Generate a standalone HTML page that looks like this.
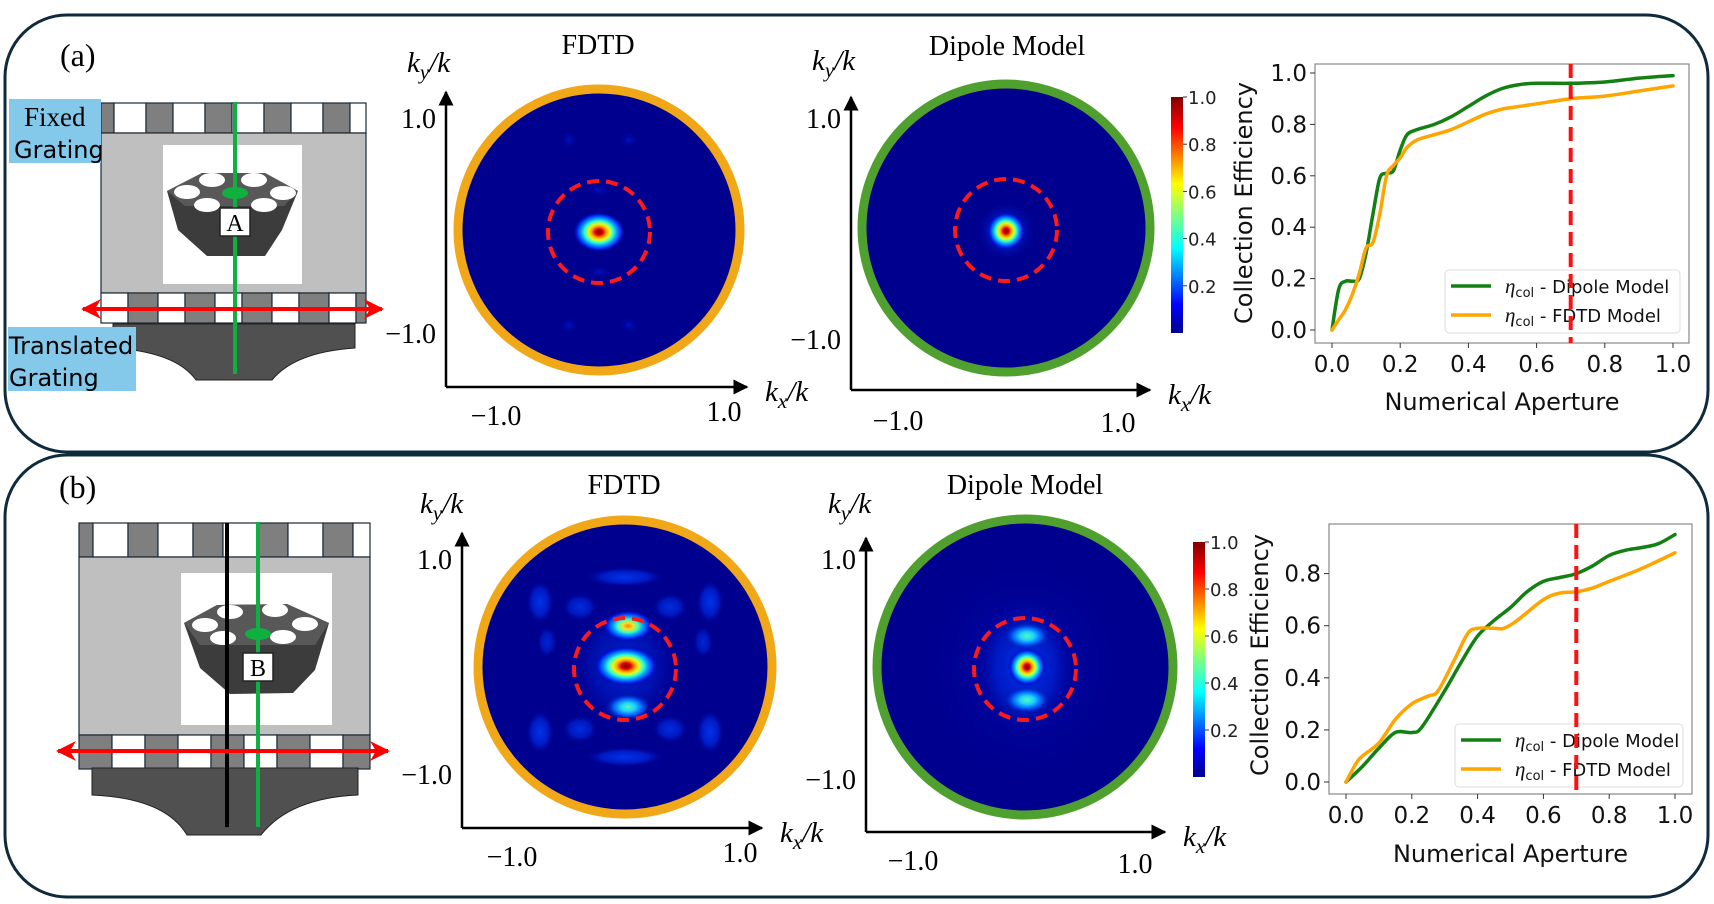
<!DOCTYPE html>
<html><head><meta charset="utf-8">
<style>
html,body{margin:0;padding:0;background:#fff;}
svg{display:block;}
.serif{font-family:"Liberation Serif",serif;}
.sans{font-family:"DejaVu Sans","Liberation Sans",sans-serif;}
</style></head>
<body>
<svg id="fig" width="1714" height="904" viewBox="0 0 1714 904" xmlns="http://www.w3.org/2000/svg">
<defs>
<radialGradient id="spot">
<stop offset="0" stop-color="#7f0000"/>
<stop offset="0.15" stop-color="#e00000"/>
<stop offset="0.3" stop-color="#ffb000"/>
<stop offset="0.42" stop-color="#e0ff20"/>
<stop offset="0.55" stop-color="#30ffd0"/>
<stop offset="0.7" stop-color="#0090ff"/>
<stop offset="0.85" stop-color="#0020f0"/>
<stop offset="1" stop-color="#00008f" stop-opacity="0"/>
</radialGradient>
<radialGradient id="spot2">
<stop offset="0" stop-color="#ff8000"/>
<stop offset="0.2" stop-color="#ffe020"/>
<stop offset="0.4" stop-color="#40ffc0"/>
<stop offset="0.6" stop-color="#0090ff"/>
<stop offset="0.8" stop-color="#0020f0"/>
<stop offset="1" stop-color="#00008f" stop-opacity="0"/>
</radialGradient>
<radialGradient id="spot3">
<stop offset="0" stop-color="#50ffb0"/>
<stop offset="0.3" stop-color="#20d0ff"/>
<stop offset="0.6" stop-color="#0060ff"/>
<stop offset="1" stop-color="#00008f" stop-opacity="0"/>
</radialGradient>
<radialGradient id="faint">
<stop offset="0" stop-color="#0040ff"/>
<stop offset="0.6" stop-color="#0020d0"/>
<stop offset="1" stop-color="#000090" stop-opacity="0"/>
</radialGradient>
<radialGradient id="vfaint">
<stop offset="0" stop-color="#0010c0"/>
<stop offset="1" stop-color="#00008f" stop-opacity="0"/>
</radialGradient>
<radialGradient id="halo">
<stop offset="0" stop-color="#0030e0"/>
<stop offset="0.5" stop-color="#0018c0"/>
<stop offset="1" stop-color="#000090" stop-opacity="0"/>
</radialGradient>
<linearGradient id="jet" x1="0" y1="1" x2="0" y2="0">
<stop offset="0" stop-color="#00008f"/>
<stop offset="0.12" stop-color="#0000ff"/>
<stop offset="0.36" stop-color="#00ffff"/>
<stop offset="0.5" stop-color="#80ff80"/>
<stop offset="0.63" stop-color="#ffff00"/>
<stop offset="0.87" stop-color="#ff0000"/>
<stop offset="1" stop-color="#800000"/>
</linearGradient>
<marker id="arr" viewBox="0 0 10 10" refX="9" refY="5" markerWidth="6" markerHeight="6" orient="auto"><path d="M0,0 L10,5 L0,10 Z" fill="#000"/></marker>
<marker id="rarr" viewBox="0 0 10 10" refX="9" refY="5" markerWidth="5" markerHeight="5" orient="auto-start-reverse"><path d="M0,0 L10,5 L0,10 L3,5 Z" fill="#f00"/></marker>
</defs>

<rect x="5" y="15" width="1703" height="437" rx="62" fill="none" stroke="#0f2b3b" stroke-width="3"/>
<rect x="5" y="455" width="1703" height="442" rx="62" fill="none" stroke="#0f2b3b" stroke-width="3"/>
<text x="60" y="66" class="serif" font-size="32">(a)</text>
<text x="59" y="498" class="serif" font-size="32">(b)</text>

<g id="schemA"></g>
<g id="schemB"></g>
<g id="maps"></g>
<g id="chartA"></g>
<g id="chartB"></g>
</svg>

<script>
// ---------- chart data ----------
const naA = [0,0.02,0.04,0.06,0.08,0.1,0.12,0.14,0.16,0.18,0.2,0.22,0.25,0.3,0.35,0.4,0.45,0.5,0.55,0.6,0.7,0.8,0.9,1.0];
const dipoleA = [0,0.16,0.19,0.19,0.2,0.3,0.45,0.59,0.61,0.62,0.7,0.76,0.78,0.8,0.83,0.87,0.91,0.94,0.955,0.96,0.96,0.965,0.98,0.99];
const fdtdA = [0,0.04,0.08,0.14,0.22,0.32,0.34,0.45,0.6,0.64,0.67,0.71,0.74,0.76,0.78,0.81,0.84,0.86,0.87,0.88,0.9,0.91,0.93,0.95];
const naB1 = [0,0.05,0.1,0.15,0.2,0.23,0.3,0.35,0.4,0.45,0.5,0.55,0.6,0.65,0.7,0.75,0.8,0.85,0.9,0.95,1.0];
const dipoleB = [0,0.06,0.13,0.19,0.19,0.21,0.35,0.46,0.56,0.62,0.67,0.73,0.77,0.785,0.8,0.83,0.87,0.89,0.9,0.915,0.95];
const naB2 = [0,0.03,0.05,0.1,0.15,0.2,0.25,0.28,0.33,0.37,0.4,0.45,0.48,0.52,0.6,0.65,0.7,0.75,0.8,0.9,1.0];
const fdtdB = [0,0.07,0.1,0.15,0.24,0.3,0.33,0.35,0.47,0.57,0.59,0.59,0.59,0.62,0.7,0.725,0.73,0.745,0.77,0.82,0.88];
const xTicks = [0,0.2,0.4,0.6,0.8,1.0];
const yTicksA = [0,0.2,0.4,0.6,0.8,1.0];
const yTicksB = [0,0.2,0.4,0.6,0.8];
const cbTicks = [0.2,0.4,0.6,0.8,1.0];
const naCut = 0.7;

const NS = "http://www.w3.org/2000/svg";
function mk(tag, attrs, parent){
  const e = document.createElementNS(NS, tag);
  for (const k in attrs) e.setAttribute(k, attrs[k]);
  if (parent) parent.appendChild(e);
  return e;
}
function smoothPath(pts){
  let d = "M" + pts[0][0].toFixed(1) + "," + pts[0][1].toFixed(1);
  for (let i=0;i<pts.length-1;i++){
    const p0 = pts[Math.max(0,i-1)], p1 = pts[i], p2 = pts[i+1], p3 = pts[Math.min(pts.length-1,i+2)];
    const c1x = p1[0]+(p2[0]-p0[0])/6, c1y = p1[1]+(p2[1]-p0[1])/6;
    const c2x = p2[0]-(p3[0]-p1[0])/6, c2y = p2[1]-(p3[1]-p1[1])/6;
    d += " C"+c1x.toFixed(1)+","+c1y.toFixed(1)+" "+c2x.toFixed(1)+","+c2y.toFixed(1)+" "+p2[0].toFixed(1)+","+p2[1].toFixed(1);
  }
  return d;
}

function drawChart(g, cfg){
  const sx = v => cfg.x0 + v*(cfg.x1-cfg.x0);
  const sy = v => cfg.y0 - v*(cfg.y0-cfg.y1);
  const frame = mk("rect",{x:cfg.fl,y:cfg.ft,width:cfg.fr-cfg.fl,height:cfg.fb-cfg.ft,fill:"#fff",stroke:"#888","stroke-width":1.2},g);
  
  
  cfg.xt.forEach(v=>{
    mk("line",{x1:sx(v),x2:sx(v),y1:cfg.fb,y2:cfg.fb+5,stroke:"#333"},g);
    const t = mk("text",{x:sx(v),y:cfg.fb+29,"text-anchor":"middle","font-size":23,class:"sans",fill:"#111"},g);
    t.textContent = v.toFixed(1);
    
    
  });
  cfg.yt.forEach(v=>{
    mk("line",{x1:cfg.fl-5,x2:cfg.fl,y1:sy(v),y2:sy(v),stroke:"#333"},g);
    const t = mk("text",{x:cfg.fl-8,y:sy(v)+8,"text-anchor":"end","font-size":23,class:"sans",fill:"#111"},g);
    t.textContent = v.toFixed(1);
    
    
  });
  const xl = mk("text",{x:(cfg.fl+cfg.fr)/2,y:cfg.xly,"text-anchor":"middle","font-size":24,class:"sans",fill:"#111"},g);
  xl.textContent = "Numerical Aperture";
  
  
  const yl = mk("text",{transform:"translate("+cfg.ylx+","+cfg.yly+") rotate(-90)","text-anchor":"middle","font-size":24,class:"sans",fill:"#111"},g);
  yl.textContent = "Collection Efficiency";
  
  
  const dp = mk("path",{d:smoothPath(cfg.dx.map((x,i)=>[sx(x),sy(cfg.dy[i])])),fill:"none",stroke:"#128012","stroke-width":3.5,"stroke-linecap":"round"},g);
  
  
  const fp = mk("path",{d:smoothPath(cfg.fx.map((x,i)=>[sx(x),sy(cfg.fy[i])])),fill:"none",stroke:"#ffa500","stroke-width":3.5,"stroke-linecap":"round"},g);
  
  
  const lg = mk("g",{},g);
  
  
  mk("rect",{x:cfg.lx,y:cfg.ly,width:cfg.lw,height:63,rx:4,fill:"#fff","fill-opacity":0.85,stroke:"#ddd"},lg);
  const names = ["Dipole Model","FDTD Model"], cols=["#128012","#ffa500"];
  names.forEach((n,i)=>{
    const yy = cfg.ly+16+i*29;
    const ln = mk("line",{x1:cfg.lx+6,x2:cfg.lx+46,y1:yy,y2:yy,stroke:cols[i],"stroke-width":3.5},lg);
    
    
    const t = mk("text",{x:cfg.lx+60,y:yy+7,"font-size":18,class:"sans",fill:"#111"},lg);
    t.innerHTML = '<tspan font-style="italic" font-family="Liberation Serif,serif" font-size="21">η</tspan><tspan font-size="13" dy="4">col</tspan><tspan dy="-4"> - '+n+'</tspan>';
    
    
  });
  const cut = mk("line",{x1:sx(naCut),x2:sx(naCut),y1:cfg.ft,y2:cfg.fb,stroke:"#ff1010","stroke-width":4,"stroke-dasharray":"14,7"},g);
  
  
}

drawChart(document.getElementById("chartA"),{
  fl:1315,fr:1689,ft:64,fb:343,x0:1332,x1:1673,y0:330,y1:73,
  xt:xTicks,yt:yTicksA,dx:naA,dy:dipoleA,fx:naA,fy:fdtdA,
  xly:410,ylx:1252,yly:203,lx:1445,ly:270,lw:235
});
drawChart(document.getElementById("chartB"),{
  fl:1329,fr:1692,ft:524,fb:794,x0:1346,x1:1675,y0:782,y1:521.5,
  xt:xTicks,yt:yTicksB,dx:naB1,dy:dipoleB,fx:naB2,fy:fdtdB,
  xly:862,ylx:1268,yly:655,lx:1455,ly:724,lw:228
});

// ---------- far-field maps ----------
const maps = document.getElementById("maps");
function drawMap(c){
  const g = mk("g",{},maps);
  
  
  const tt = mk("text",{x:c.tx,y:c.ty,"text-anchor":"middle","font-size":28,class:"serif"},g);
  tt.textContent = c.title;
  
  
  mk("circle",{cx:c.cx,cy:c.cy,r:c.r-4,fill:"#00008f",stroke:c.ring,"stroke-width":9},g);
  c.spots.forEach(s=>mk("ellipse",{cx:c.cx+s[0],cy:c.cy+s[1],rx:s[2],ry:s[3],fill:"url(#"+s[4]+")",opacity:(s[5]===undefined?1:s[5])},g));
  const dc = mk("circle",{cx:c.cx,cy:c.cy+2,r:51,fill:"none",stroke:"#ff1a1a","stroke-width":4,"stroke-dasharray":"12,7"},g);
  
  
  const ax = mk("path",{d:"M"+c.ax+","+c.ab+" L"+c.ax+","+c.at,stroke:"#000","stroke-width":2.5,fill:"none","marker-end":"url(#arr)"},g);
  
  
  const ay = mk("path",{d:"M"+c.ax+","+c.ab+" L"+c.ar+","+c.ab,stroke:"#000","stroke-width":2.5,fill:"none","marker-end":"url(#arr)"},g);
  
  
  const ky = mk("text",{x:c.kyx,y:c.kyy,"font-size":29,class:"serif","font-style":"italic"},g);
  ky.innerHTML = 'k<tspan font-size="21" dy="7">y</tspan><tspan dy="-7">/k</tspan>';
  
  
  const kx = mk("text",{x:c.ar+18,y:c.ab+14,"font-size":29,class:"serif","font-style":"italic"},g);
  kx.innerHTML = 'k<tspan font-size="21" dy="7">x</tspan><tspan dy="-7">/k</tspan>';
  
  
  [["1.0",c.ax-10,c.t1y,"end"],["\u22121.0",c.ax-10,c.t2y,"end"],["\u22121.0",c.x1x,c.x1y,"middle"],["1.0",c.x2x,c.x2y,"middle"]].forEach(a=>{
    const t = mk("text",{x:a[1],y:a[2],"text-anchor":a[3],"font-size":28,class:"serif"},g);
    t.textContent = a[0];
    
    
  });
  if (c.cb){
    const cb = mk("g",{},g);
    
    
    mk("rect",{x:c.cb.x,y:c.cb.top,width:12,height:c.cb.bot-c.cb.top,fill:"url(#jet)"},cb);
    cbTicks.forEach(v=>{
      const y = c.cb.bot - v*(c.cb.bot-c.cb.top);
      mk("line",{x1:c.cb.x+12,x2:c.cb.x+16,y1:y,y2:y,stroke:"#333"},cb);
      const t = mk("text",{x:c.cb.x+17,y:y+7,"font-size":18,class:"sans",fill:"#222"},cb);
      t.textContent = v.toFixed(1);
      
      
    });
  }
}
drawMap({name:"fdtd-map-a",title:"FDTD",tx:598,ty:54,cx:599,cy:230,r:145,ring:"#f0a818",
  spots:[[0,2,26,20,"spot"],[-30,-90,10,9,"vfaint"],[30,-90,10,9,"vfaint"],[-30,95,10,9,"vfaint"],[30,95,10,9,"vfaint"],[0,-40,14,7,"vfaint"],[0,42,14,7,"vfaint"]],
  ax:446,at:92,ab:387,ar:747,kyx:407,kyy:72,t1y:128,t2y:343,x1x:496,x1y:425,x2x:724,x2y:421});
drawMap({name:"dipole-map-a",title:"Dipole Model",tx:1007,ty:55,cx:1006,cy:228,r:148,ring:"#50a030",
  spots:[[0,3,30,30,"halo"],[0,3,19,19,"spot"]],
  ax:851,at:97,ab:390,ar:1150,kyx:812,kyy:70,t1y:128,t2y:349,x1x:898,x1y:430,x2x:1118,x2y:432,
  cb:{x:1171,top:97,bot:333}});
drawMap({name:"fdtd-map-b",title:"FDTD",tx:624,ty:494,cx:625,cy:667,r:151,ring:"#f0a818",
  spots:[[0,-1,60,70,"halo",0.7],[1,-1,32,20,"spot"],[3,-41,26,16,"spot2"],[3,40,24,14,"spot3"],
    [0,-90,40,10,"faint",0.8],[0,90,40,10,"faint",0.8],[-85,-65,14,22,"faint",0.8],[85,-65,14,22,"faint",0.8],[-85,65,14,22,"faint",0.8],[85,65,14,22,"faint",0.8],
    [-45,-60,18,14,"faint",0.7],[45,-60,18,14,"faint",0.7],[-45,62,18,14,"faint",0.7],[45,62,18,14,"faint",0.7],[-78,-25,10,16,"faint",0.6],[78,-25,10,16,"faint",0.6]],
  ax:462,at:533,ab:828,ar:762,kyx:420,kyy:513,t1y:569,t2y:784,x1x:512,x1y:866,x2x:740,x2y:862});
drawMap({name:"dipole-map-b",title:"Dipole Model",tx:1025,ty:494,cx:1025,cy:667,r:152,ring:"#50a030",
  spots:[[0,0,110,120,"vfaint",0.8],[0,0,50,70,"faint",0.7],[2,-31,24,14,"spot3"],[2,33,24,14,"spot3"],[2,0,19,19,"spot"]],
  ax:866,at:538,ab:832,ar:1165,kyx:828,kyy:513,t1y:569,t2y:789,x1x:913,x1y:870,x2x:1135,x2y:873,
  cb:{x:1193,top:542,bot:777}});

// ---------- schematics ----------
function grating(g, x0, x1, y, h, start, first, pattern){
  let x = x0, i = 0;
  while (x < x1 - 0.5){
    const w = (i===0 && first) ? first : pattern[i%2];
    const ww = Math.min(w, x1-x);
    mk("rect",{x:x,y:y,width:ww,height:h,fill:((i+start)%2===0)?"#7f7f7f":"#fff",stroke:"#1a2a36","stroke-width":1.2},g);
    x += w; i++;
  }
}
function schematic(g, s){
  grating(g, s.gx0, s.gx1, s.gt, s.gh, 0, s.tf, s.pt);
  mk("rect",{x:s.gx0,y:s.gt+s.gh,width:s.gx1-s.gx0,height:s.bb-s.gt-s.gh,fill:"#bfbfbf",stroke:"#1a2a36","stroke-width":1.2},g);
  mk("rect",{x:s.wx,y:s.wy,width:s.ww,height:s.wh,fill:"#fff"},g);
  grating(g, s.gx0, s.gx1, s.bb, s.gh, s.bs, 0, s.pb);
  mk("path",{d:s.ped,fill:"#505050",stroke:"#222","stroke-width":1},g);
  mk("polygon",{points:s.hexBody,fill:"#3c3c3c"},g);
  mk("polygon",{points:s.hexTop,fill:"#585858"},g);
  s.holes.forEach(h=>mk("ellipse",{cx:h[0],cy:h[1],rx:13,ry:7,fill:"#fff"},g));
  if (s.black) mk("line",{x1:s.black,x2:s.black,y1:s.gt,y2:s.lb,stroke:"#000","stroke-width":4},g);
  mk("line",{x1:s.green,x2:s.green,y1:s.gt-1,y2:s.lb,stroke:"#10b040","stroke-width":4},g);
  mk("ellipse",{cx:s.green,cy:s.dotY,rx:13,ry:6,fill:"#10b040"},g);
  mk("rect",{x:s.green-15,y:s.lbY,width:30,height:28,fill:"#fff",stroke:"#222","stroke-width":1.5},g);
  const t = mk("text",{x:s.green,y:s.lbY+23,"text-anchor":"middle","font-size":24,class:"serif"},g);
  t.textContent = s.letter;
  
  
  const ar = mk("line",{x1:s.ax0,x2:s.ax1,y1:s.ay,y2:s.ay,stroke:"#ff0000","stroke-width":4,"marker-start":"url(#rarr)","marker-end":"url(#rarr)"},g);
  
  
}
const sA = document.getElementById("schemA");
schematic(sA,{gx0:101,gx1:366,gt:103,gh:30,bb:293,tf:13,pt:[27,32],pb:[27,30],bs:1,
  wx:163,wy:145,ww:139,wh:139,
  ped:"M113,324 L355,324 L355,348 Q295,352 272,380 L196,380 Q176,352 113,348 Z",
  hexTop:"167,191 202,173 265,173 298,191 284,206 185,206",
  hexBody:"167,191 202,173 265,173 298,191 282,230 265,256 207,256 178,230",
  holes:[[187,192],[212,180],[254,180],[283,193],[207,205],[264,205]],
  green:235,lb:374,dotY:193,lbY:208,letter:"A",ax0:83,ax1:382,ay:309});
const sB = document.getElementById("schemB");
schematic(sB,{gx0:79,gx1:370,gt:523,gh:34,bb:735,tf:14,pt:[30,35],pb:[33,33],bs:0,
  wx:181,wy:573,ww:151,wh:152,
  ped:"M92,768 L358,768 L358,795 Q290,798 261,835 L187,835 Q165,798 92,795 Z",
  hexTop:"184,623 217,605 287,604 329,623 315,645 200,645",
  hexBody:"184,623 217,605 287,604 329,623 315,670 293,693 230,694 200,668",
  holes:[[205,625],[230,612],[275,610],[305,624],[223,638],[283,637]],
  black:227,green:258,lb:827,dotY:634,lbY:653,letter:"B",ax0:58,ax1:388,ay:751});

function labelBox(x,y,w,h,l1,l2,name,tx1,tx2,serif){
  const g = mk("g",{},sA);
  
  
  mk("rect",{x:x,y:y,width:w,height:h,fill:"#84c8ea"},g);
  const t1 = mk("text",{x:tx1,y:y+27,"font-size":serif?27:24,class:serif?"serif":"sans"},g); t1.textContent=l1;
  const t2 = mk("text",{x:tx2,y:y+59,"font-size":24,class:"sans"},g); t2.textContent=l2;
}
labelBox(9,99,92,64,"Fixed","Grating","fixed-grating-label",24,14,true);
labelBox(8,327,128,64,"Translated","Grating","translated-grating-label",9,9,false);
</script>
</body></html>
